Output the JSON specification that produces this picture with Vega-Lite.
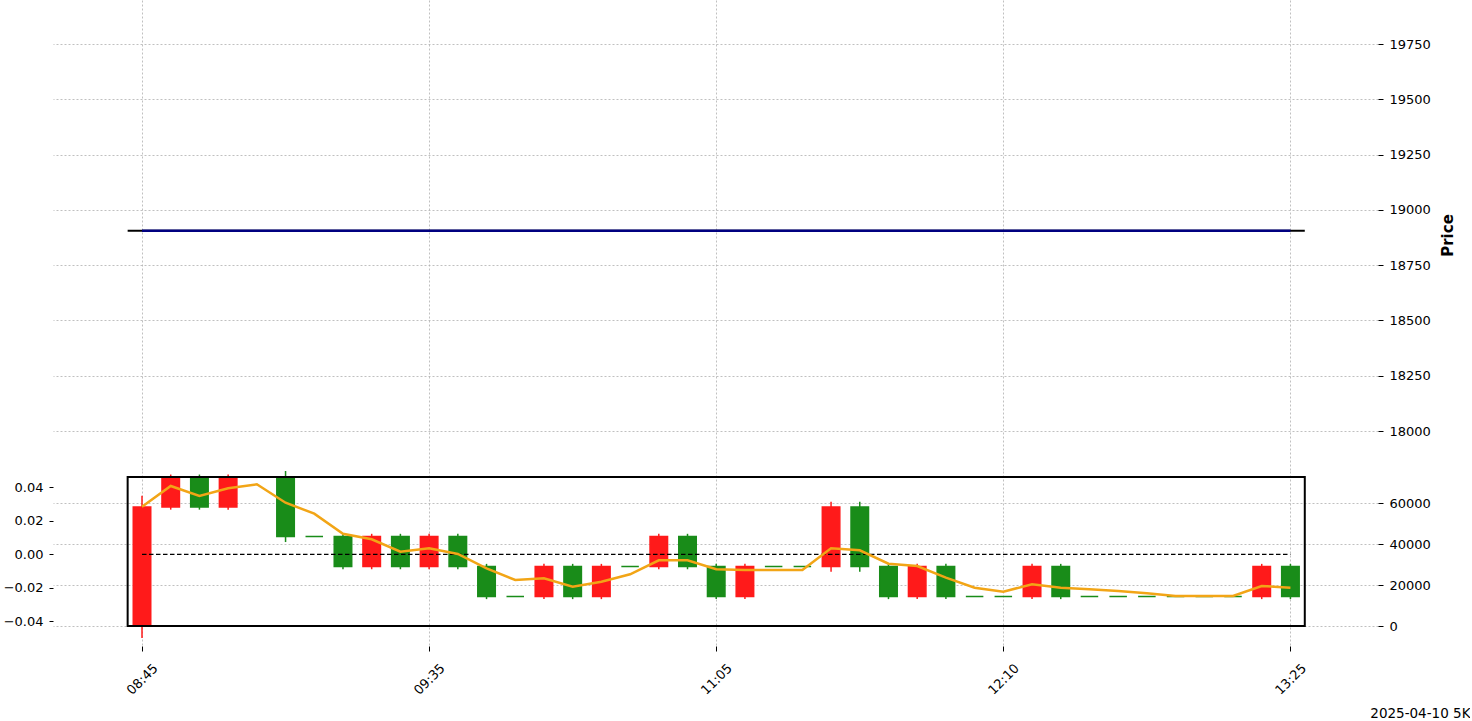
{
  "$schema": "https://vega.github.io/schema/vega-lite/v6.json",
  "padding": {"left": 0, "top": 0, "right": 0, "bottom": 0},
  "spacing": 0,
  "background": "white",
  "config": {
    "view": {"stroke": null},
    "font": "DejaVu Sans",
    "axis": {
      "labelFont": "DejaVu Sans",
      "titleFont": "DejaVu Sans",
      "labelColor": "#000000",
      "titleColor": "#000000",
      "tickColor": "#000000",
      "gridColor": "#b0b0b0",
      "gridDash": [2, 2],
      "gridWidth": 0.8,
      "domain": false,
      "labelFontSize": 13
    }
  },
  "datasets": {
    "candles": [
      {"i": 0, "o": -0.0427, "c": 0.0282, "h": 0.0349, "l": -0.0499, "d": "up", "ma": 58340, "p": 18906},
      {"i": 1, "o": 0.0282, "c": 0.046, "h": 0.0475, "l": 0.0266, "d": "up", "ma": 68440, "p": 18906},
      {"i": 2, "o": 0.046, "c": 0.0282, "h": 0.0475, "l": 0.0266, "d": "down", "ma": 63560, "p": 18906},
      {"i": 3, "o": 0.0282, "c": 0.046, "h": 0.0475, "l": 0.0266, "d": "up", "ma": 67320, "p": 18906},
      {"i": 4, "o": 0.046, "c": 0.046, "h": 0.046, "l": 0.046, "d": "down", "ma": 69270, "p": 18906},
      {"i": 5, "o": 0.046, "c": 0.0106, "h": 0.0496, "l": 0.0073, "d": "down", "ma": 60290, "p": 18906},
      {"i": 6, "o": 0.0106, "c": 0.0106, "h": 0.0106, "l": 0.0106, "d": "down", "ma": 54930, "p": 18906},
      {"i": 7, "o": 0.0106, "c": -0.0073, "h": 0.0122, "l": -0.0089, "d": "down", "ma": 45170, "p": 18906},
      {"i": 8, "o": -0.0073, "c": 0.0106, "h": 0.0122, "l": -0.0089, "d": "up", "ma": 42440, "p": 18906},
      {"i": 9, "o": 0.0106, "c": -0.0073, "h": 0.0122, "l": -0.0089, "d": "down", "ma": 36390, "p": 18906},
      {"i": 10, "o": -0.0073, "c": 0.0106, "h": 0.0122, "l": -0.0089, "d": "up", "ma": 38050, "p": 18906},
      {"i": 11, "o": 0.0106, "c": -0.0073, "h": 0.0122, "l": -0.0089, "d": "down", "ma": 35270, "p": 18906},
      {"i": 12, "o": -0.0073, "c": -0.0251, "h": -0.0057, "l": -0.0267, "d": "down", "ma": 28290, "p": 18906},
      {"i": 13, "o": -0.0251, "c": -0.0251, "h": -0.0251, "l": -0.0251, "d": "down", "ma": 22590, "p": 18906},
      {"i": 14, "o": -0.0251, "c": -0.0073, "h": -0.0057, "l": -0.0267, "d": "up", "ma": 23410, "p": 18906},
      {"i": 15, "o": -0.0073, "c": -0.0251, "h": -0.0057, "l": -0.0267, "d": "down", "ma": 19320, "p": 18906},
      {"i": 16, "o": -0.0251, "c": -0.0073, "h": -0.0057, "l": -0.0267, "d": "up", "ma": 21760, "p": 18906},
      {"i": 17, "o": -0.0073, "c": -0.0073, "h": -0.0073, "l": -0.0073, "d": "down", "ma": 25370, "p": 18906},
      {"i": 18, "o": -0.0073, "c": 0.0106, "h": 0.0122, "l": -0.0089, "d": "up", "ma": 32200, "p": 18906},
      {"i": 19, "o": 0.0106, "c": -0.0073, "h": 0.0122, "l": -0.0089, "d": "down", "ma": 32200, "p": 18906},
      {"i": 20, "o": -0.0073, "c": -0.0251, "h": -0.0057, "l": -0.0267, "d": "down", "ma": 27800, "p": 18906},
      {"i": 21, "o": -0.0251, "c": -0.0073, "h": -0.0057, "l": -0.0267, "d": "up", "ma": 27460, "p": 18906},
      {"i": 22, "o": -0.0073, "c": -0.0073, "h": -0.0073, "l": -0.0073, "d": "down", "ma": 27460, "p": 18906},
      {"i": 23, "o": -0.0073, "c": -0.0073, "h": -0.0073, "l": -0.0073, "d": "down", "ma": 27460, "p": 18906},
      {"i": 24, "o": -0.0073, "c": 0.0282, "h": 0.0313, "l": -0.0104, "d": "up", "ma": 38050, "p": 18906},
      {"i": 25, "o": 0.0282, "c": -0.0073, "h": 0.0313, "l": -0.0104, "d": "down", "ma": 37070, "p": 18906},
      {"i": 26, "o": -0.0073, "c": -0.0251, "h": -0.0057, "l": -0.0267, "d": "down", "ma": 30540, "p": 18906},
      {"i": 27, "o": -0.0251, "c": -0.0073, "h": -0.0057, "l": -0.0267, "d": "up", "ma": 29410, "p": 18906},
      {"i": 28, "o": -0.0073, "c": -0.0251, "h": -0.0057, "l": -0.0267, "d": "down", "ma": 23710, "p": 18906},
      {"i": 29, "o": -0.0251, "c": -0.0251, "h": -0.0251, "l": -0.0251, "d": "down", "ma": 18830, "p": 18906},
      {"i": 30, "o": -0.0251, "c": -0.0251, "h": -0.0251, "l": -0.0251, "d": "down", "ma": 16880, "p": 18906},
      {"i": 31, "o": -0.0251, "c": -0.0073, "h": -0.0057, "l": -0.0267, "d": "up", "ma": 20490, "p": 18906},
      {"i": 32, "o": -0.0073, "c": -0.0251, "h": -0.0057, "l": -0.0267, "d": "down", "ma": 18830, "p": 18906},
      {"i": 33, "o": -0.0251, "c": -0.0251, "h": -0.0251, "l": -0.0251, "d": "down", "ma": 18050, "p": 18906},
      {"i": 34, "o": -0.0251, "c": -0.0251, "h": -0.0251, "l": -0.0251, "d": "down", "ma": 17220, "p": 18906},
      {"i": 35, "o": -0.0251, "c": -0.0251, "h": -0.0251, "l": -0.0251, "d": "down", "ma": 16100, "p": 18906},
      {"i": 36, "o": -0.0251, "c": -0.0251, "h": -0.0251, "l": -0.0251, "d": "down", "ma": 14780, "p": 18906},
      {"i": 37, "o": -0.0251, "c": -0.0251, "h": -0.0251, "l": -0.0251, "d": "down", "ma": 14780, "p": 18906},
      {"i": 38, "o": -0.0251, "c": -0.0251, "h": -0.0251, "l": -0.0251, "d": "down", "ma": 14780, "p": 18906},
      {"i": 39, "o": -0.0251, "c": -0.0073, "h": -0.0057, "l": -0.0267, "d": "up", "ma": 19660, "p": 18906},
      {"i": 40, "o": -0.0073, "c": -0.0251, "h": -0.0057, "l": -0.0267, "d": "down", "ma": 18830, "p": 18906}
    ],
    "frame": [
      {"x0": -0.5, "x1": 40.5, "top": 0.046, "bottom": -0.0427, "z0": 0, "z1": 40, "zero": 0, "p": 18906}
    ]
  },
  "vconcat": [
    {
      "width": 1325,
      "height": 470,
      "layer": [
        {
          "data": {"name": "frame"},
          "mark": {"type": "rule", "color": "#000000", "strokeWidth": 2},
          "encoding": {
            "x": {
              "field": "x0", "type": "quantitative",
              "scale": {"domain": [-3.1, 43.05], "nice": false, "zero": false, "padding": 0},
              "axis": {"values": [0, 10, 20, 30, 40], "labels": false, "ticks": false, "title": null, "grid": true}
            },
            "x2": {"field": "x1"},
            "y": {
              "field": "p", "type": "quantitative",
              "scale": {"domain": [17824, 19949], "nice": false, "zero": false},
              "axis": {
                "orient": "right",
                "values": [18000, 18250, 18500, 18750, 19000, 19250, 19500, 19750],
                "format": "d",
                "grid": true,
                "tickSize": 5,
                "labelPadding": 6,
                "title": "Price",
                "titleFontWeight": "bold",
                "titleFontSize": 15,
                "titleAngle": 270,
                "titleX": 69,
                "titleY": 235,
                "titleAlign": "center",
                "titleBaseline": "middle"
              }
            }
          }
        },
        {
          "data": {"name": "candles"},
          "mark": {"type": "line", "color": "#000080", "strokeWidth": 2.5},
          "encoding": {
            "x": {"field": "i", "type": "quantitative"},
            "y": {"field": "p", "type": "quantitative"}
          }
        }
      ]
    },
    {
      "width": 1325,
      "height": 175,
      "resolve": {"scale": {"y": "independent"}},
      "layer": [
        {
          "layer": [
            {
              "data": {"name": "candles"},
              "mark": {"type": "rule", "strokeWidth": 1.5},
              "encoding": {
                "x": {
                  "field": "i", "type": "quantitative",
                  "scale": {"domain": [-3.1, 43.05], "nice": false, "zero": false, "padding": 0},
                  "axis": {
                    "values": [0, 10, 20, 30, 40],
                    "labelExpr": "datum.value == 0 ? '08:45' : datum.value == 10 ? '09:35' : datum.value == 20 ? '11:05' : datum.value == 30 ? '12:10' : '13:25'",
                    "grid": true,
                    "tickSize": 5,
                    "labelAngle": -45,
                    "labelAlign": "center",
                    "labelBaseline": "middle",
                    "labelPadding": 28,
                    "labelFontSize": 13,
                    "labelOverlap": false,
                    "labelFlush": false,
                    "title": "2025-04-10 5K",
                    "titleFontWeight": "normal",
                    "titleFontSize": 13.5,
                    "titleX": 1417,
                    "titleY": 67,
                    "titleAlign": "right",
                    "titleBaseline": "middle"
                  }
                },
                "y": {
                  "field": "l", "type": "quantitative",
                  "scale": {"domain": [-0.05462, 0.04961], "nice": false, "zero": false},
                  "axis": {
                    "orient": "left",
                    "values": [-0.04, -0.02, 0, 0.02, 0.04],
                    "labelExpr": "replace(format(datum.value, '.2f'), '-', '\u2212')",
                    "grid": false,
                    "tickSize": 4,
                    "labelPadding": 6,
                    "title": null,
                    "minExtent": 53,
                    "maxExtent": 53
                  }
                },
                "y2": {"field": "h"},
                "color": {"field": "d", "type": "nominal", "scale": {"domain": ["up", "down"], "range": ["#ff1a1a", "#198c19"]}, "legend": null}
              }
            },
            {
              "data": {"name": "candles"},
              "mark": {"type": "bar", "size": 17.5, "strokeWidth": 1.5},
              "encoding": {
                "x": {"field": "i", "type": "quantitative"},
                "y": {"field": "o", "type": "quantitative"},
                "y2": {"field": "c"},
                "color": {"field": "d", "type": "nominal", "scale": {"domain": ["up", "down"], "range": ["#ff1a1a", "#198c19"]}, "legend": null},
                "stroke": {"field": "d", "type": "nominal", "scale": {"domain": ["up", "down"], "range": ["#ff1a1a", "#198c19"]}, "legend": null}
              }
            },
            {
              "data": {"name": "frame"},
              "mark": {"type": "rule", "color": "#000000", "strokeWidth": 1.2, "strokeDash": [4.5, 2.5]},
              "encoding": {
                "x": {"field": "z0", "type": "quantitative"},
                "x2": {"field": "z1"},
                "y": {"field": "zero", "type": "quantitative"}
              }
            },
            {
              "data": {"name": "frame"},
              "mark": {"type": "rect", "filled": false, "color": "#000000", "strokeWidth": 2},
              "encoding": {
                "x": {"field": "x0", "type": "quantitative"},
                "x2": {"field": "x1"},
                "y": {"field": "top", "type": "quantitative"},
                "y2": {"field": "bottom"}
              }
            }
          ]
        },
        {
          "data": {"name": "candles"},
          "mark": {"type": "line", "color": "#f2a516", "strokeWidth": 2.5},
          "encoding": {
            "x": {"field": "i", "type": "quantitative"},
            "y": {
              "field": "ma", "type": "quantitative",
              "scale": {"domain": [-9610, 75756], "nice": false, "zero": false},
              "axis": {
                "orient": "right",
                "values": [0, 20000, 40000, 60000],
                "format": "d",
                "grid": true,
                "tickSize": 5,
                "labelPadding": 6,
                "title": null
              }
            }
          }
        }
      ]
    }
  ]
}
